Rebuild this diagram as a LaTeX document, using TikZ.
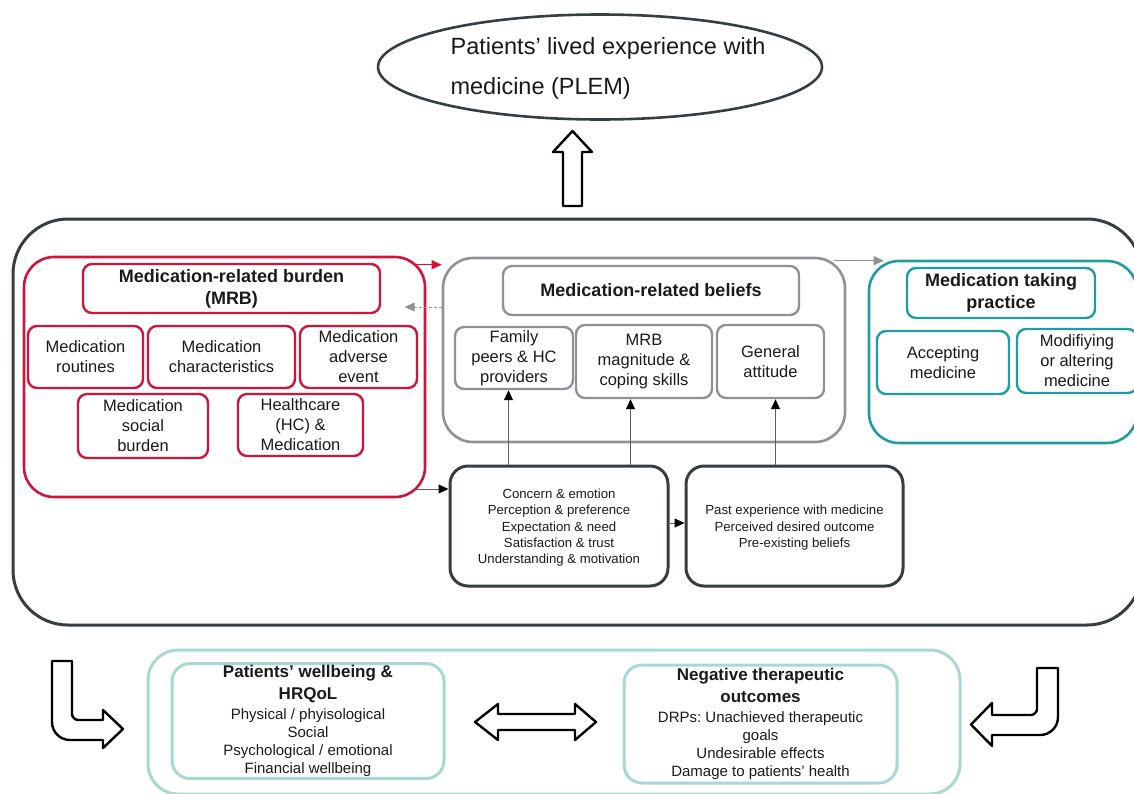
\documentclass[tikz,border=0pt]{standalone}
\usepackage{fontspec}
\setmainfont{Liberation Sans}
\usetikzlibrary{shapes.geometric,arrows.meta}
\frenchspacing

\definecolor{framec}{HTML}{373E42}
\definecolor{crim}{HTML}{D2143A}
\definecolor{greyc}{HTML}{8E9297}
\definecolor{tealc}{HTML}{1E9E9E}
\definecolor{paleteal}{HTML}{A8D8D2}
\definecolor{textc}{HTML}{1A1A1A}
\definecolor{linec}{HTML}{5E5E5E}

\begin{document}
\begin{tikzpicture}[x=1pt,y=-1pt,
  cell/.style={rectangle, inner sep=0pt, align=center, text=textc},
  wh/.style 2 args={minimum width=#1, minimum height=#2},
  bodyfont/.style={font=\fontsize{16.5}{20}\selectfont},
  headfont/.style={font=\fontsize{18}{22}\selectfont\bfseries},
  smallfont/.style={font=\fontsize{13.2}{16.3}\selectfont},
  outerframe/.style={cell, draw=framec, line width=3pt, rounded corners=55pt},
  redgroup/.style={cell, draw=crim, line width=2.6pt, rounded corners=30pt},
  redcell/.style={cell, draw=crim, line width=2.4pt, rounded corners=9pt},
  greygroup/.style={cell, draw=greyc, line width=2.6pt, rounded corners=30pt},
  greycell/.style={cell, draw=greyc, line width=2.4pt, rounded corners=9pt},
  tealgroup/.style={cell, draw=tealc, line width=2.6pt, rounded corners=30pt},
  tealcell/.style={cell, draw=tealc, line width=2.4pt, rounded corners=9pt},
  factorbox/.style={cell, draw=framec, line width=3pt, rounded corners=18pt, smallfont},
  palegroup/.style={cell, draw=paleteal, line width=3pt, rounded corners=30pt},
  palecell/.style={cell, draw=paleteal, line width=3pt, rounded corners=18pt,
    font=\fontsize{15}{18}\selectfont},
  hollow/.style={draw=black, line width=2.4pt, fill=white, line join=round},
  blkarr/.style={draw=linec, line width=1pt, -{Triangle[length=10pt,width=9pt,color=black]}},
  redarr/.style={draw=crim, line width=1pt, -{Triangle[length=10pt,width=9pt]}},
  greyarr/.style={draw=greyc, line width=1pt, -{Triangle[length=10pt,width=9pt]}},
  dasharr/.style={draw=greyc, line width=1pt, dashed, dash pattern=on 3pt off 2pt,
    -{Triangle[length=10pt,width=9pt]}}
]
\useasboundingbox (0,0) rectangle (1134,793);
\clip (0,0) rectangle (1134,793);

% top outcome: the ellipse and its left-aligned caption
\node[ellipse, draw=framec, line width=2.6pt, wh={444pt}{105pt}, inner sep=0pt]
  (plem) at (600,67) {};
\node[inner sep=0pt, align=left, text=textc, font=\fontsize{23.5}{40}\selectfont]
  (plemtext) at ([xshift=8pt,yshift=-1pt]plem.center) {Patients’ lived experience with\\medicine (PLEM)};

% the whole experience frame
\node[outerframe, wh={1129pt}{406pt}] (frame) at (577.5,422) {};

% medication-related burden
\node[redgroup, wh={401pt}{240pt}] (mrb) at (224.5,377) {};
\node[redcell, wh={297pt}{49pt}, headfont] (mrbtitle) at (231.5,288.5)
  {\rule{0pt}{6pt}Medication-related burden\\(MRB)};
\node[redcell, wh={115pt}{62pt}, bodyfont] (routines) at (85.5,357) {Medication\\routines};
\node[redcell, wh={147pt}{62pt}, bodyfont] (charact) at (221.5,357) {Medication\\characteristics};
\node[redcell, wh={117pt}{62pt}, bodyfont] (adverse) at (358.5,357) {Medication\\adverse\\event};
\node[redcell, wh={130pt}{64pt}, bodyfont] (social) at (143,426) {Medication\\social\\burden};
\node[redcell, wh={125pt}{62pt}, bodyfont] (hcmed) at (300.5,425) {Healthcare\\(HC) \&\\Medication};

% medication-related beliefs
\node[greygroup, wh={402pt}{184pt}] (beliefs) at (644,350) {};
\node[greycell, wh={296pt}{49pt}, headfont] (beltitle) at (651,290.5) {Medication-related beliefs};
\node[greycell, wh={118pt}{62pt}, bodyfont] (family) at (514,358) {Family\\peers \& HC\\providers};
\node[greycell, wh={136pt}{73pt}, bodyfont] (magnitude) at (644,361.5) {MRB\\magnitude \&\\coping skills};
\node[greycell, wh={107pt}{73pt}, bodyfont] (general) at (770.5,361.5) {General\\attitude};

% medication taking practice
\node[tealgroup, wh={268pt}{182pt}] (practice) at (1003,352) {};
\node[tealcell, wh={188pt}{50pt}, headfont] (practitle) at (1001,293) {Medication taking\\practice};
\node[tealcell, wh={132pt}{63pt}, bodyfont] (accept) at (943,362.5) {Accepting\\medicine};
\node[tealcell, wh={120pt}{64pt}, bodyfont] (modify) at (1077,361) {Modifiying\\or altering\\medicine};

% shaping factors
\node[factorbox, wh={218pt}{120pt}] (factors) at (559,526)
  {\rule{0pt}{13pt}Concern \& emotion\\Perception \& preference\\Expectation \& need\\Satisfaction \& trust\\Understanding \& motivation};
\node[factorbox, wh={217pt}{120pt}] (history) at (794.5,526)
  {\rule{0pt}{13pt}Past experience with medicine\\Perceived desired outcome\\Pre-existing beliefs};

% connectors inside the frame
\coordinate (rA) at ([xshift=-12pt,yshift=-9pt]mrb.north east);
\draw[redarr] (rA) -- (beliefs.west |- rA);
\coordinate (dA) at ([yshift=43pt]beliefs.west);
\draw[dasharr] (dA) -- ([xshift=-37pt]dA);
\coordinate (gA) at ([xshift=-12pt,yshift=-4pt]beliefs.north east);
\draw[greyarr] (gA) -- ([xshift=16pt]practice.west |- gA);
\coordinate (kA) at ([yshift=37pt]factors.west);
\draw[blkarr] ([xshift=-12pt]mrb.east |- kA) -- (kA);
\draw[blkarr] ([yshift=3pt]factors.east) -- ([yshift=3pt]history.west);
\coordinate (u1) at ([xshift=60pt]factors.north west);
\coordinate (u2) at ([xshift=182pt]factors.north west);
\coordinate (u3) at ([xshift=91pt]history.north west);
\draw[blkarr] (u1) -- (u1 |- family.south);
\draw[blkarr] (u2) -- (u2 |- magnitude.south);
\draw[blkarr] (u3) -- (u3 |- general.south);

% outcomes row
\node[palegroup, wh={812pt}{144pt}] (outcomes) at (554,722) {};
\node[palecell, wh={272pt}{115pt}] (wellbeing) at (308,721)
  {{\fontsize{17}{21}\selectfont\bfseries Patients’ wellbeing \&}\\[4pt]
   {\fontsize{17}{21}\selectfont\bfseries HRQoL}\\[2pt]
   Physical / phyisological\\Social\\Psychological / emotional\\Financial wellbeing};
\node[palecell, wh={273pt}{118pt}] (negative) at (760.5,724)
  {{\fontsize{17}{21}\selectfont\bfseries Negative therapeutic}\\[4pt]
   {\fontsize{17}{21}\selectfont\bfseries outcomes}\\[2pt]
   DRPs: Unachieved therapeutic\\goals\\Undesirable effects\\Damage to patients’ health};

% block arrows
\draw[hollow] (563,206) -- (563,152) -- (553,152) -- (572.5,131) -- (592,152)
  -- (582,152) -- (582,206) -- cycle;
\draw[hollow] (52,661) -- (52,722) .. controls (52,732) and (60,740) .. (70,740)
  -- (103,740) -- (103,748) -- (123,729) -- (103,710) -- (103,720) -- (78,720)
  .. controls (75,720) and (72,717) .. (72,714) -- (72,661) -- cycle;
\draw[hollow] (1058,668) -- (1058,717) .. controls (1058,727) and (1050,735) .. (1040,735)
  -- (992,735) -- (992,746) -- (971,724.5) -- (992,703) -- (992,715) -- (1031,715)
  .. controls (1034,715) and (1037,712) .. (1037,709) -- (1037,668) -- cycle;
\draw[hollow] (475,722) -- (498,704) -- (498,714) -- (575,714) -- (575,704)
  -- (596,722) -- (575,740) -- (575,730) -- (498,730) -- (498,740) -- cycle;
\end{tikzpicture}
\end{document}
